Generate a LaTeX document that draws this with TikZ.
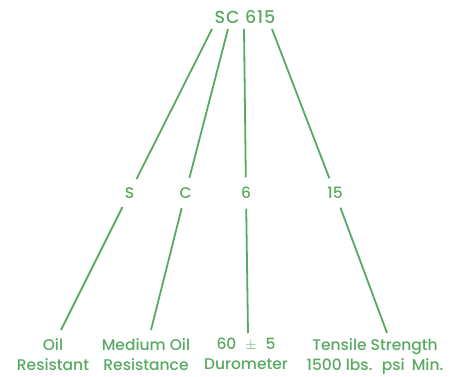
\documentclass[tikz,border=0pt]{standalone}
\usepackage{fontspec}
\setmainfont{Poppins}[UprightFont=* Medium]
\newfontfamily\titlefont{Poppins}[UprightFont=* Medium,LetterSpace=5]
\definecolor{ink}{RGB}{88,170,98}
\begin{document}
\begin{tikzpicture}[x=1pt,y=-1pt,
  lbl/.style={text=ink,font=\fontsize{15.5}{20}\selectfont,inner sep=0pt},
  mid/.style={lbl,circle,minimum size=31pt},
  bot/.style={lbl,align=center,anchor=north},
  wire/.style={draw=ink,line width=1.8pt}]
\useasboundingbox (0,0) rectangle (464,377);
\node[lbl,font=\titlefont\fontsize{17.5}{18}\selectfont] (title) at (245,17) {SC 615};
\coordinate (t1) at (212,29);
\coordinate (t2) at (228,29);
\coordinate (t3) at (244,29);
\coordinate (t4) at (272,29);
\node[mid] (m1) at (129.5,193) {S};
\node[mid] (m2) at (185.5,193) {C};
\node[mid] (m3) at (246,193) {6};
\node[mid] (m4) at (335,193) {15};
\coordinate (b1) at (61,330);
\coordinate (b2) at (151,330);
\coordinate (b3) at (248,333);
\coordinate (b4) at (387,333);
\node[bot] (o1) at (53,338) {Oil\\Resistant};
\node[bot] (o2) at (146,338) {Medium Oil\\Resistance};
\node[bot] (o3) at (246,338) {60\hspace{9pt}$\pm$\hspace{9pt}5\\Durometer};
\node[bot] (o4) at (375,338) {Tensile Strength\\1500 lbs.\hspace{4pt} psi\hspace{3pt} Min.};
\foreach \i in {1,2,3,4}{
  \draw[wire] (t\i) -- (m\i);
  \draw[wire] (m\i) -- (b\i);
}
\end{tikzpicture}
\end{document}
